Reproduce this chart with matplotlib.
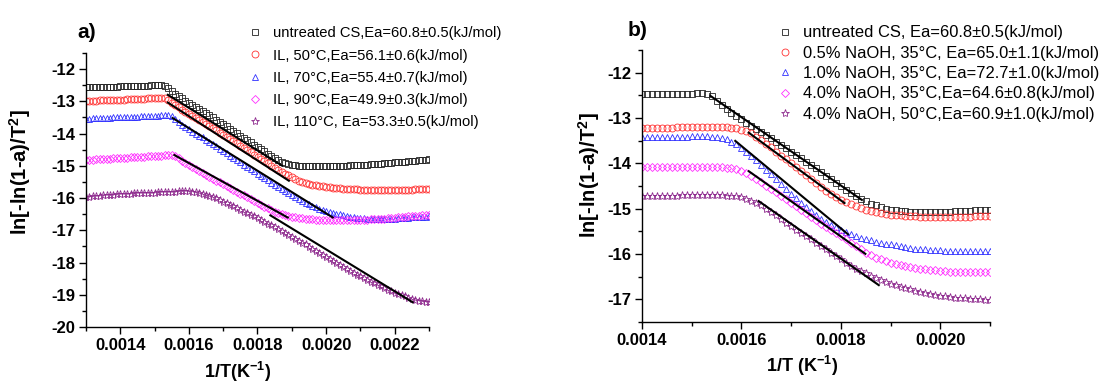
import numpy as np
import matplotlib
matplotlib.use("Agg")
import matplotlib.pyplot as plt
from matplotlib.ticker import MultipleLocator, FormatStrFormatter

plt.rcParams['font.family'] = ['Liberation Sans', 'DejaVu Sans']
plt.rcParams['mathtext.fontset'] = 'custom'
plt.rcParams['mathtext.rm'] = 'Liberation Sans'
plt.rcParams['mathtext.bf'] = 'Liberation Sans:bold'

# ---------------- panel a data (x = 1/T, step 1e-5 from 0.00130 to 0.00230) ----------------
x_a = np.arange(130, 231) * 1e-5

a_untreated = [
    -12.57, -12.57, -12.56, -12.56, -12.55, -12.55, -12.55, -12.54, -12.54, -12.54,
    -12.53, -12.53, -12.53, -12.52, -12.52, -12.52, -12.51, -12.51, -12.51, -12.50,
    -12.50, -12.50, -12.50, -12.52, -12.58, -12.67, -12.76, -12.84, -12.91, -12.98,
    -13.04, -13.10, -13.16, -13.23, -13.29, -13.36, -13.43, -13.50, -13.57, -13.64,
    -13.71, -13.78, -13.85, -13.92, -13.99, -14.06, -14.13, -14.20, -14.27, -14.34,
    -14.41, -14.48, -14.55, -14.62, -14.69, -14.76, -14.82, -14.87, -14.91, -14.94,
    -14.96, -14.98, -14.99, -15.00, -15.01, -15.01, -15.01, -15.01, -15.01, -15.01,
    -15.01, -15.01, -15.01, -15.00, -15.00, -14.99, -14.99, -14.98, -14.98, -14.97,
    -14.97, -14.96, -14.96, -14.95, -14.94, -14.93, -14.93, -14.92, -14.91, -14.90,
    -14.89, -14.89, -14.88, -14.87, -14.86, -14.85, -14.84, -14.83, -14.82, -14.81,
    -14.80]
a_il50 = [
    -12.99, -12.99, -12.98, -12.98, -12.97, -12.97, -12.97, -12.96, -12.96, -12.96,
    -12.95, -12.95, -12.94, -12.94, -12.93, -12.93, -12.92, -12.92, -12.91, -12.91,
    -12.90, -12.90, -12.90, -12.91, -12.96, -13.04, -13.12, -13.19, -13.26, -13.33,
    -13.40, -13.46, -13.53, -13.59, -13.65, -13.71, -13.78, -13.84, -13.90, -13.97,
    -14.03, -14.10, -14.16, -14.23, -14.30, -14.37, -14.44, -14.51, -14.58, -14.65,
    -14.72, -14.78, -14.85, -14.92, -14.99, -15.06, -15.12, -15.18, -15.24, -15.30,
    -15.36, -15.41, -15.46, -15.50, -15.53, -15.56, -15.58, -15.60, -15.62, -15.64,
    -15.65, -15.67, -15.68, -15.69, -15.70, -15.71, -15.72, -15.72, -15.73, -15.73,
    -15.74, -15.74, -15.75, -15.75, -15.75, -15.75, -15.75, -15.75, -15.75, -15.75,
    -15.75, -15.75, -15.75, -15.74, -15.74, -15.74, -15.73, -15.73, -15.73, -15.72,
    -15.72]
a_il70 = [
    -13.54, -13.54, -13.53, -13.53, -13.52, -13.52, -13.51, -13.51, -13.50, -13.50,
    -13.49, -13.49, -13.48, -13.48, -13.47, -13.47, -13.46, -13.46, -13.45, -13.45,
    -13.44, -13.44, -13.43, -13.43, -13.43, -13.46, -13.55, -13.65, -13.73, -13.80,
    -13.87, -13.94, -14.00, -14.06, -14.12, -14.19, -14.26, -14.33, -14.40, -14.47,
    -14.54, -14.61, -14.68, -14.75, -14.82, -14.89, -14.96, -15.03, -15.10, -15.17,
    -15.24, -15.31, -15.38, -15.45, -15.52, -15.59, -15.66, -15.73, -15.79, -15.85,
    -15.91, -15.97, -16.03, -16.08, -16.14, -16.19, -16.24, -16.29, -16.33, -16.36,
    -16.39, -16.42, -16.45, -16.48, -16.51, -16.54, -16.56, -16.58, -16.60, -16.61,
    -16.62, -16.63, -16.64, -16.65, -16.65, -16.66, -16.66, -16.66, -16.65, -16.65,
    -16.64, -16.63, -16.62, -16.61, -16.61, -16.60, -16.59, -16.59, -16.58, -16.58,
    -16.57]
a_il90 = [
    -14.82, -14.81, -14.81, -14.80, -14.80, -14.79, -14.79, -14.78, -14.77, -14.77,
    -14.76, -14.76, -14.75, -14.74, -14.74, -14.73, -14.72, -14.72, -14.71, -14.70,
    -14.70, -14.69, -14.68, -14.67, -14.66, -14.66, -14.70, -14.77, -14.84, -14.91,
    -14.98, -15.04, -15.10, -15.16, -15.22, -15.28, -15.34, -15.40, -15.46, -15.51,
    -15.57, -15.63, -15.68, -15.74, -15.80, -15.86, -15.92, -15.97, -16.03, -16.09,
    -16.15, -16.21, -16.27, -16.32, -16.37, -16.42, -16.46, -16.50, -16.53, -16.56,
    -16.58, -16.60, -16.62, -16.63, -16.64, -16.65, -16.66, -16.67, -16.68, -16.68,
    -16.69, -16.69, -16.69, -16.69, -16.69, -16.69, -16.69, -16.69, -16.68, -16.68,
    -16.68, -16.67, -16.67, -16.66, -16.66, -16.65, -16.64, -16.64, -16.63, -16.62,
    -16.61, -16.60, -16.59, -16.58, -16.57, -16.57, -16.56, -16.55, -16.54, -16.53,
    -16.52]
a_il110 = [
    -15.97, -15.96, -15.95, -15.94, -15.93, -15.92, -15.91, -15.90, -15.89, -15.88,
    -15.88, -15.87, -15.86, -15.86, -15.85, -15.85, -15.84, -15.84, -15.83, -15.83,
    -15.83, -15.82, -15.82, -15.81, -15.81, -15.80, -15.80, -15.79, -15.79, -15.79,
    -15.79, -15.80, -15.81, -15.83, -15.86, -15.89, -15.93, -15.97, -16.01, -16.06,
    -16.11, -16.16, -16.21, -16.26, -16.31, -16.36, -16.42, -16.47, -16.52, -16.57,
    -16.63, -16.68, -16.73, -16.79, -16.85, -16.90, -16.96, -17.02, -17.08, -17.14,
    -17.20, -17.26, -17.32, -17.38, -17.44, -17.51, -17.57, -17.63, -17.70, -17.76,
    -17.83, -17.89, -17.96, -18.02, -18.08, -18.14, -18.20, -18.26, -18.32, -18.38,
    -18.43, -18.49, -18.54, -18.59, -18.64, -18.69, -18.74, -18.79, -18.84, -18.88,
    -18.93, -18.97, -19.01, -19.05, -19.09, -19.12, -19.15, -19.18, -19.20, -19.21,
    -19.22]

labels_a = ["untreated CS,Ea=60.8\u00b10.5(kJ/mol)",
            "IL, 50\u00b0C,Ea=56.1\u00b10.6(kJ/mol)",
            "IL, 70\u00b0C,Ea=55.4\u00b10.7(kJ/mol)",
            "IL, 90\u00b0C,Ea=49.9\u00b10.3(kJ/mol)",
            "IL, 110\u00b0C, Ea=53.3\u00b10.5(kJ/mol)"]

# linear fits (x1, x2, y1, y2)
fits_a = [
    (0.001536, 0.001874, -12.78, -15.01),
    (0.001536, 0.001894, -13.02, -15.48),
    (0.001550, 0.002022, -13.50, -16.62),
    (0.001555, 0.001891, -14.65, -16.62),
    (0.001835, 0.002255, -16.52, -19.25),
]

# ---------------- panel b data (x step 1e-5 from 0.00140 to 0.00210) ----------------
x_b = np.arange(140, 211) * 1e-5

b_untreated = [
    -12.48, -12.48, -12.48, -12.47, -12.47, -12.47, -12.47, -12.46, -12.46, -12.46,
    -12.46, -12.45, -12.45, -12.46, -12.51, -12.62, -12.71, -12.80, -12.88, -12.96,
    -13.03, -13.10, -13.17, -13.24, -13.31, -13.38, -13.45, -13.52, -13.59, -13.66,
    -13.74, -13.81, -13.89, -13.96, -14.04, -14.11, -14.19, -14.27, -14.35, -14.43,
    -14.51, -14.58, -14.65, -14.72, -14.78, -14.84, -14.89, -14.93, -14.97, -15.00,
    -15.02, -15.04, -15.05, -15.06, -15.07, -15.07, -15.08, -15.08, -15.08, -15.08,
    -15.08, -15.07, -15.07, -15.06, -15.06, -15.05, -15.05, -15.04, -15.03, -15.03,
    -15.02]
b_naoh05_35 = [
    -13.21, -13.21, -13.21, -13.21, -13.21, -13.21, -13.21, -13.20, -13.20, -13.20,
    -13.20, -13.20, -13.20, -13.20, -13.20, -13.20, -13.20, -13.20, -13.21, -13.23,
    -13.26, -13.29, -13.34, -13.41, -13.49, -13.57, -13.65, -13.74, -13.83, -13.91,
    -13.99, -14.08, -14.17, -14.26, -14.35, -14.44, -14.52, -14.60, -14.68, -14.75,
    -14.80, -14.85, -14.90, -14.94, -14.98, -15.02, -15.05, -15.08, -15.10, -15.12,
    -15.13, -15.14, -15.15, -15.16, -15.17, -15.17, -15.18, -15.18, -15.18, -15.18,
    -15.18, -15.18, -15.18, -15.18, -15.18, -15.18, -15.18, -15.17, -15.17, -15.17,
    -15.17]
b_naoh10_35 = [
    -13.42, -13.42, -13.42, -13.42, -13.41, -13.41, -13.41, -13.41, -13.41, -13.41,
    -13.40, -13.40, -13.40, -13.40, -13.41, -13.42, -13.44, -13.47, -13.52, -13.58,
    -13.66, -13.74, -13.83, -13.93, -14.03, -14.14, -14.24, -14.35, -14.46, -14.57,
    -14.67, -14.77, -14.87, -14.96, -15.05, -15.14, -15.22, -15.29, -15.35, -15.41,
    -15.46, -15.51, -15.56, -15.60, -15.64, -15.67, -15.70, -15.73, -15.75, -15.77,
    -15.79, -15.81, -15.83, -15.85, -15.86, -15.88, -15.89, -15.90, -15.91, -15.92,
    -15.92, -15.93, -15.93, -15.93, -15.94, -15.94, -15.94, -15.94, -15.94, -15.94,
    -15.94]
b_naoh40_35 = [
    -14.09, -14.09, -14.09, -14.09, -14.09, -14.09, -14.08, -14.08, -14.08, -14.08,
    -14.08, -14.08, -14.08, -14.08, -14.08, -14.08, -14.09, -14.10, -14.11, -14.13,
    -14.16, -14.21, -14.27, -14.34, -14.41, -14.49, -14.57, -14.64, -14.72, -14.79,
    -14.87, -14.94, -15.02, -15.10, -15.18, -15.26, -15.33, -15.40, -15.47, -15.54,
    -15.61, -15.68, -15.76, -15.83, -15.90, -15.97, -16.03, -16.08, -16.12, -16.16,
    -16.19, -16.22, -16.25, -16.27, -16.29, -16.31, -16.33, -16.34, -16.35, -16.36,
    -16.37, -16.38, -16.39, -16.39, -16.40, -16.40, -16.40, -16.40, -16.40, -16.40,
    -16.40]
b_naoh40_50 = [
    -14.73, -14.73, -14.72, -14.72, -14.72, -14.71, -14.71, -14.71, -14.70, -14.70,
    -14.70, -14.70, -14.70, -14.70, -14.70, -14.70, -14.70, -14.71, -14.72, -14.73,
    -14.75, -14.78, -14.82, -14.87, -14.93, -15.00, -15.07, -15.15, -15.23, -15.31,
    -15.38, -15.46, -15.53, -15.61, -15.68, -15.76, -15.83, -15.90, -15.98, -16.05,
    -16.12, -16.19, -16.26, -16.32, -16.38, -16.43, -16.48, -16.53, -16.58, -16.62,
    -16.66, -16.69, -16.72, -16.75, -16.78, -16.81, -16.83, -16.86, -16.88, -16.90,
    -16.92, -16.93, -16.95, -16.96, -16.97, -16.98, -16.99, -17.00, -17.00, -17.01,
    -17.01]

labels_b = ["untreated CS, Ea=60.8\u00b10.5(kJ/mol)",
            "0.5% NaOH, 35\u00b0C, Ea=65.0\u00b11.1(kJ/mol)",
            "1.0% NaOH, 35\u00b0C, Ea=72.7\u00b11.0(kJ/mol)",
            "4.0% NaOH, 35\u00b0C,Ea=64.6\u00b10.8(kJ/mol)",
            "4.0% NaOH, 50\u00b0C,Ea=60.9\u00b11.0(kJ/mol)"]

fits_b = [
    (0.001536, 0.001844, -12.50, -14.82),
    (0.001613, 0.001809, -13.31, -14.89),
    (0.001586, 0.001816, -13.49, -15.58),
    (0.001613, 0.001851, -14.16, -16.01),
    (0.001633, 0.001878, -14.82, -16.70),
]

# ---------------- styles ----------------
colors = ['#222222', '#ff3030', '#3030ff', '#ff30ff', '#8e2a8e']
markers = ['s', 'o', '^', 'D', '*']
msizes = [4.6, 5.0, 5.0, 4.4, 6.0]

W, H = 1109, 383
fig = plt.figure(figsize=(W / 100, H / 100), dpi=100)

def px_axes(left, right, top, bottom):
    return fig.add_axes([left / W, 1 - bottom / H, (right - left) / W, (bottom - top) / H])

ax_a = px_axes(86, 429, 53, 327)
ax_b = px_axes(642, 990, 50, 322)

def draw(ax, x, series, labels, fits):
    for ys, lab, c, m, ms in zip(series, labels, colors, markers, msizes):
        ax.plot(x, ys, linestyle='none', marker=m, markersize=ms,
                markerfacecolor='none', markeredgecolor=c, markeredgewidth=0.6,
                label=lab)
    for (x1, x2, y1, y2) in fits:
        ax.plot([x1, x2], [y1, y2], color='black', lw=1.5, solid_capstyle='butt')
    for s in ['top', 'right']:
        ax.spines[s].set_visible(False)
    for s in ['left', 'bottom']:
        ax.spines[s].set_linewidth(1.0)
    ax.tick_params(which='major', direction='out', length=5, width=1.0,
                   labelsize=12, pad=3)
    ax.tick_params(which='minor', direction='out', length=3, width=1.0)

draw(ax_a, x_a, [a_untreated, a_il50, a_il70, a_il90, a_il110], labels_a, fits_a)
ax_a.set_xlim(0.0013, 0.0023)
ax_a.set_ylim(-20, -11.5)

draw(ax_b, x_b, [b_untreated, b_naoh05_35, b_naoh10_35, b_naoh40_35, b_naoh40_50], labels_b, fits_b)
ax_b.set_xlim(0.0014, 0.0021)
ax_b.set_ylim(-17.5, -11.5)

for ax in (ax_a, ax_b):
    ax.xaxis.set_major_locator(MultipleLocator(0.0002))
    ax.xaxis.set_minor_locator(MultipleLocator(0.0001))
    ax.yaxis.set_major_locator(MultipleLocator(1))
    ax.yaxis.set_minor_locator(MultipleLocator(0.5))
    ax.xaxis.set_major_formatter(FormatStrFormatter('%.4f'))
    ax.yaxis.set_major_formatter(FormatStrFormatter('%d'))
    for t in ax.get_xticklabels() + ax.get_yticklabels():
        t.set_fontweight('bold')

ylab = r'ln[-ln(1-a)/T$^{\mathbf{2}}$]'
ax_a.set_ylabel(ylab, fontsize=14.5, fontweight='bold', va='center')
ax_a.yaxis.set_label_coords(-0.192, 0.566)
ax_b.set_ylabel(ylab, fontsize=14.5, fontweight='bold', va='center')
ax_b.yaxis.set_label_coords(-0.152, 0.541)
ax_a.set_xlabel(r'1/T(K$^{\mathbf{-1}}$)', fontsize=13, fontweight='bold', va='center')
ax_a.xaxis.set_label_coords(0.442, -0.165)
ax_b.set_xlabel(r'1/T (K$^{\mathbf{-1}}$)', fontsize=13, fontweight='bold', va='center')
ax_b.xaxis.set_label_coords(0.459, -0.163)

fig.text(77 / W, 1 - 33 / H, 'a)', fontsize=15, fontweight='bold', va='center', ha='left')
fig.text(628 / W, 1 - 31 / H, 'b)', fontsize=15, fontweight='bold', va='center', ha='left')

common = dict(frameon=False, borderpad=0, borderaxespad=0, handlelength=0.8,
              numpoints=1, loc='upper left', bbox_transform=fig.transFigure)
ax_a.legend(bbox_to_anchor=(249.5 / W, 1 - 26.5 / H), labelspacing=0.55,
            handletextpad=0.8, prop={'size': 10.6}, **common)
ax_b.legend(bbox_to_anchor=(778 / W, 1 - 25.5 / H), labelspacing=0.32,
            handletextpad=0.7, prop={'size': 11.9}, **common)

fig.savefig('out.png', dpi=100)
